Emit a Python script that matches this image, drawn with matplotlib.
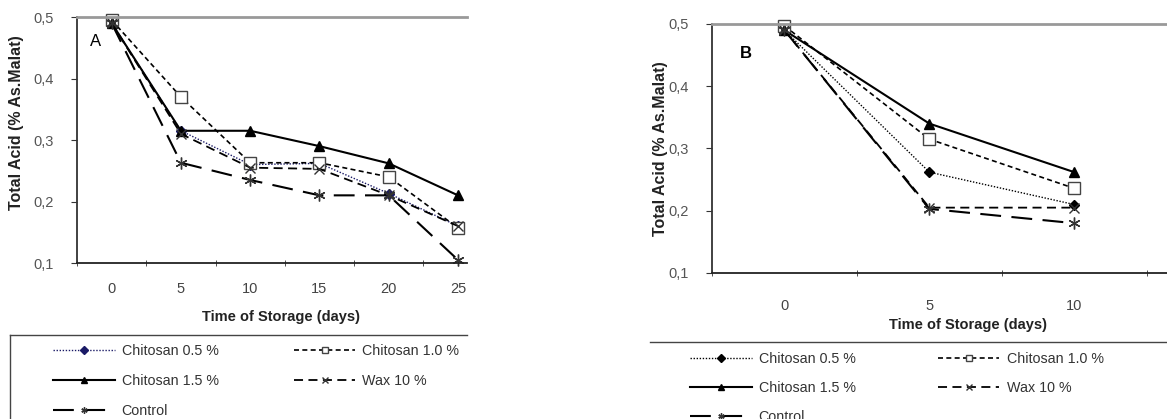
import matplotlib
matplotlib.use("Agg")
import matplotlib.pyplot as plt
from matplotlib.lines import Line2D

# ---- data ----
days_a = ["0", "5", "10", "15", "20", "25"]
a_chitosan05 = [0.490, 0.315, 0.260, 0.262, 0.213, 0.160]
a_chitosan10 = [0.495, 0.370, 0.263, 0.263, 0.240, 0.157]
a_chitosan15 = [0.490, 0.315, 0.315, 0.290, 0.262, 0.210]
a_wax10 = [0.490, 0.310, 0.255, 0.253, 0.210, 0.160]
a_control = [0.490, 0.263, 0.235, 0.210, 0.210, 0.105]

days_b = ["0", "5", "10"]
b_chitosan05 = [0.490, 0.262, 0.210]
b_chitosan10 = [0.497, 0.315, 0.236]
b_chitosan15 = [0.490, 0.340, 0.262]
b_wax10 = [0.490, 0.205, 0.205]
b_control = [0.490, 0.203, 0.180]

labels = ["Chitosan 0.5 %", "Chitosan 1.0 %", "Chitosan 1.5 %", "Wax 10 %", "Control"]
yticks = [0.1, 0.2, 0.3, 0.4, 0.5]

W, H = 1167, 419
fig = plt.figure(figsize=(W / 100, H / 100), dpi=100)
plt.rcParams['font.family'] = ['Liberation Sans', 'DejaVu Sans']

def ax_rect(l, r, t, b):
    return [l / W, 1 - b / H, (r - l) / W, (b - t) / H]

def styles(c05color):
    return [
        dict(color=c05color, ls=(0, (1, 1.2)), lw=1.0, marker='D', ms=5.5, mfc=c05color, mec=c05color),
        dict(color='black', ls=(0, (3, 2)), lw=1.2, marker='s', ms=8.5, mfc='white', mec='#444444', mew=1.0),
        dict(color='black', ls='-', lw=1.5, marker='^', ms=7.5, mfc='black', mec='black'),
        dict(color='black', ls=(0, (5, 3)), lw=1.3, marker='x', ms=7.5, mec='#333333', mew=1.0),
        dict(color='black', ls=(0, (10, 5)), lw=1.5, marker=(6, 2, 0), ms=8.5, mec='#333333', mew=1.0),
    ]

def panel(rect, days, series, xr, tag, tagpos, ylpos, xlx, xpad, c05color):
    ax = fig.add_axes(rect)
    x = list(range(len(days)))
    st = styles(c05color)
    handles = []
    for s, kw, lab in zip(series, st, labels):
        h, = ax.plot(x, s, label=lab, clip_on=False, **kw)
        handles.append(h)
    ax.set_xlim(-0.5, xr)
    ax.set_ylim(0.1, 0.5)
    ax.set_yticks(yticks)
    ax.set_yticklabels([f"{v:.1f}".replace('.', ',') for v in yticks], fontsize=10.5, color='#555555')
    ax.set_xticks(x)
    ax.set_xticklabels(days, fontsize=10.5, color='#444444')
    ax.tick_params(axis='x', which='major', length=0, pad=xpad)
    ax.set_xticks([k - 0.5 for k in range(len(days) + 1) if k - 0.5 < xr], minor=True)
    ax.tick_params(axis='x', which='minor', length=5, direction='inout', color='#333333')
    ax.tick_params(axis='y', length=4, direction='out', color='#333333', pad=13)
    ax.spines['right'].set_visible(False)
    ax.spines['top'].set_color('#999999')
    ax.spines['top'].set_linewidth(2.0)
    ax.spines['left'].set_color('#333333')
    ax.spines['bottom'].set_color('#222222')
    ax.spines['left'].set_linewidth(1.3)
    ax.spines['bottom'].set_linewidth(1.3)
    ax.set_xlabel("Time of Storage (days)", fontsize=10.5, fontweight='bold', color='#222222')
    ax.xaxis.set_label_coords(xlx / W, 1 - ylpos[2] / H, transform=fig.transFigure)
    ax.xaxis.label.set_va('center')
    ax.set_ylabel("Total Acid (% As.Malat)", fontsize=11.5, fontweight='bold', color='#222222')
    ax.yaxis.set_label_coords(ylpos[0] / W, 1 - ylpos[1] / H, transform=fig.transFigure)
    ax.yaxis.label.set_va('center')
    ax.text(tagpos[0] / W, 1 - tagpos[1] / H, tag, transform=fig.transFigure, fontsize=12,
            fontweight='bold' if tag == 'B' else 'normal', ha='left', va='center')
    return ax, handles

axA, hA = panel(ax_rect(77, 467, 17, 263), days_a,
                [a_chitosan05, a_chitosan10, a_chitosan15, a_wax10, a_control],
                5.13, "A", (90, 42), (17, 123, 317), 281, 14, '#1a1a66')
axB, hB = panel(ax_rect(712, 1167, 24, 273), days_b,
                [b_chitosan05, b_chitosan10, b_chitosan15, b_wax10, b_control],
                2.64, "B", (740, 53), (660, 149, 325), 968, 19, 'black')

def legend(handles, x0, y0, colsp, lsp):
    order = [0, 2, 4, 1, 3]
    lg = fig.legend([handles[i] for i in order], [labels[i] for i in order], ncol=2,
                    loc='upper left', bbox_to_anchor=(x0 / W, 1 - y0 / H),
                    frameon=False, fontsize=10.3, handlelength=4.3, handletextpad=0.5,
                    labelspacing=lsp, columnspacing=colsp, borderaxespad=0, borderpad=0)
    for t in lg.get_texts():
        t.set_color('#333333')
    for h in lg.legend_handles:
        h.set_markersize(4.5)
    return lg

legend(hA, 53, 344, 5.25, 1.12)
legend(hB, 690, 352, 5.75, 1.05)

# legend frames (partly cut off, as in the reference)
fig.add_artist(Line2D([10 / W, 467 / W], [1 - 335 / H, 1 - 335 / H], color='#444444', lw=1.0))
fig.add_artist(Line2D([10 / W, 10 / W], [1 - 335 / H, 0], color='#444444', lw=1.0))
fig.add_artist(Line2D([650 / W, 1.0], [1 - 342 / H, 1 - 342 / H], color='#444444', lw=1.0))

fig.savefig("out.png", dpi=100)
